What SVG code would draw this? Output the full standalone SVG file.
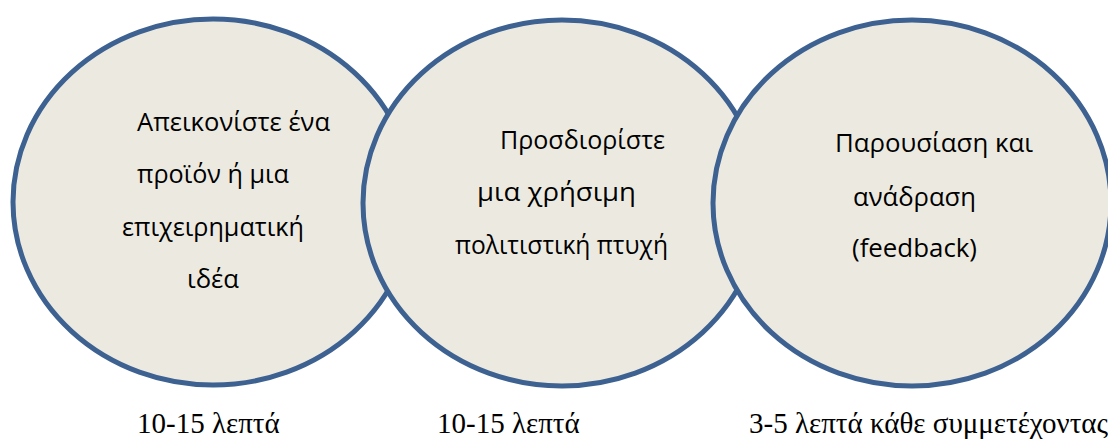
<svg xmlns="http://www.w3.org/2000/svg" width="1108" height="439" viewBox="0 0 1108 439">
<style>
.c{fill:#ECEAE0;stroke:#3D6191;stroke-width:5}
.t{font-family:"Open Sans","Noto Sans",sans-serif;font-size:26px;fill:#000}
.b{font-family:"Liberation Serif",serif;font-size:29px;fill:#000}
</style>
<rect width="1108" height="439" fill="#fff"/>
<g id="node1">
<ellipse class="c" cx="213" cy="202" rx="200" ry="183"/>
<text class="t" x="137" y="131" textLength="193" lengthAdjust="spacingAndGlyphs">Απεικονίστε ένα</text>
<text class="t" x="137" y="183" textLength="152" lengthAdjust="spacingAndGlyphs">προϊόν ή μια</text>
<text class="t" x="122" y="236" textLength="182" lengthAdjust="spacingAndGlyphs">επιχειρηματική</text>
<text class="t" x="187" y="288" textLength="52" lengthAdjust="spacingAndGlyphs">ιδέα</text>
</g>
<g id="node2">
<ellipse class="c" cx="562" cy="203" rx="199" ry="183"/>
<text class="t" x="500" y="149" textLength="165" lengthAdjust="spacingAndGlyphs">Προσδιορίστε</text>
<text class="t" x="477" y="201" textLength="159" lengthAdjust="spacingAndGlyphs">μια χρήσιμη</text>
<text class="t" x="455" y="254" textLength="213" lengthAdjust="spacingAndGlyphs">πολιτιστική πτυχή</text>
</g>
<g id="node3">
<ellipse class="c" cx="912" cy="203" rx="199" ry="183"/>
<text class="t" x="835" y="152" textLength="198" lengthAdjust="spacingAndGlyphs">Παρουσίαση και</text>
<text class="t" x="853" y="206" textLength="123" lengthAdjust="spacingAndGlyphs">ανάδραση</text>
<text class="t" x="852" y="257" textLength="125" lengthAdjust="spacingAndGlyphs">(feedback)</text>
</g>
<g id="labels">
<text class="b" x="137" y="433">10-15 λεπτά</text>
<text class="b" x="437" y="433">10-15 λεπτά</text>
<text class="b" x="749" y="433">3-5 λεπτά κάθε συμμετέχοντας</text>
</g>
<g id="connectors"/>
</svg>
